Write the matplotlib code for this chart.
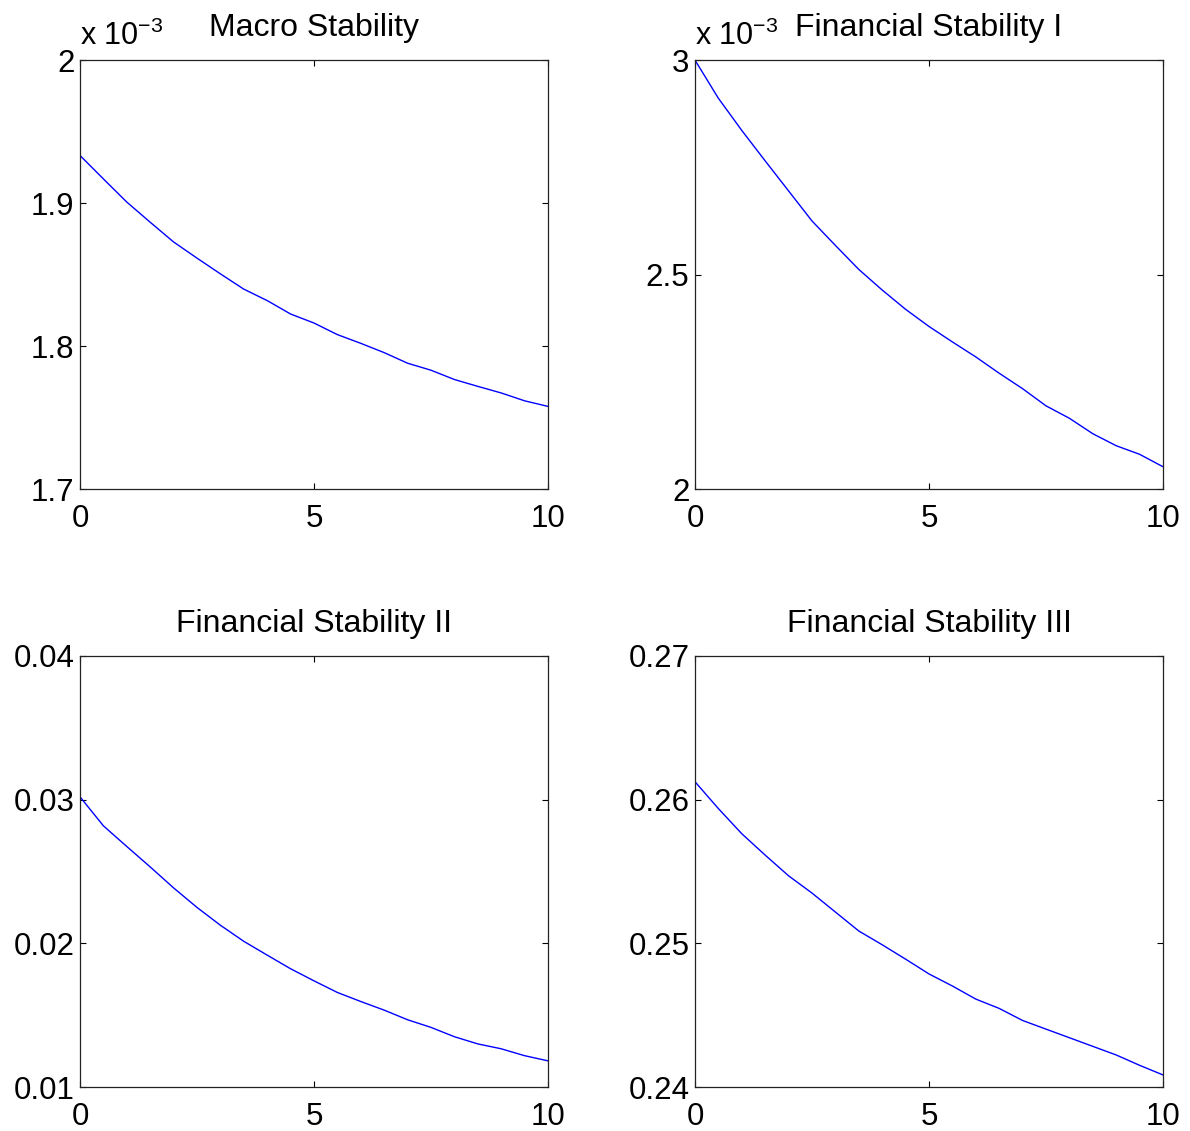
"""
Four stability panels, MATLAB-like style
"""
import matplotlib
matplotlib.use('Agg')

import matplotlib.pyplot as plt

plt.rcParams['font.family'] = ['Liberation Sans', 'DejaVu Sans']
plt.rcParams['mathtext.fontset'] = 'custom'
plt.rcParams['mathtext.rm'] = 'Liberation Sans'
plt.rcParams['mathtext.it'] = 'Liberation Sans'

# horizon (x axis)
horizon = [0, 0.5, 1, 1.5, 2, 2.5, 3, 3.5, 4, 4.5, 5, 5.5, 6, 6.5, 7, 7.5, 8, 8.5, 9, 9.5, 10]

# values in units of 1e-3
macro = [1.9333, 1.9169, 1.9007, 1.8866, 1.8728, 1.8615, 1.8505, 1.8398, 1.8318, 1.8224, 1.8161,
         1.8080, 1.8019, 1.7954, 1.7880, 1.7831, 1.7766, 1.7718, 1.7672, 1.7617, 1.7578]
fin1 = [3.000, 2.911, 2.836, 2.765, 2.695, 2.625, 2.568, 2.512, 2.464, 2.419, 2.379,
        2.343, 2.308, 2.270, 2.234, 2.194, 2.165, 2.129, 2.101, 2.081, 2.052]
fin2 = [0.0302, 0.02818, 0.02674, 0.02532, 0.02386, 0.02250, 0.02126, 0.02014, 0.01918, 0.01823, 0.01739,
        0.01658, 0.01595, 0.01535, 0.01468, 0.01415, 0.01350, 0.01300, 0.01266, 0.01218, 0.01182]
fin3 = [0.26125, 0.25938, 0.25763, 0.25614, 0.25470, 0.25350, 0.25218, 0.25086, 0.24990, 0.24890, 0.24787,
        0.24703, 0.24612, 0.24547, 0.24463, 0.24403, 0.24343, 0.24283, 0.24223, 0.24151, 0.24084]

titles = ['Macro Stability', 'Financial Stability I', 'Financial Stability II', 'Financial Stability III']
yticks = [[1.7, 1.8, 1.9, 2.0], [2.0, 2.5, 3.0], [0.01, 0.02, 0.03, 0.04], [0.24, 0.25, 0.26, 0.27]]
ylabels = [['1.7', '1.8', '1.9', '2'], ['2', '2.5', '3'],
           ['0.01', '0.02', '0.03', '0.04'], ['0.24', '0.25', '0.26', '0.27']]
scaled = [True, True, False, False]
series = [macro, fin1, fin2, fin3]

fig = plt.figure(figsize=(11.9, 11.31), dpi=100)
positions = [
    [0.0672, 0.5676, 0.3933, 0.3793],
    [0.5840, 0.5676, 0.3933, 0.3793],
    [0.0672, 0.0389, 0.3933, 0.3811],
    [0.5840, 0.0389, 0.3933, 0.3811],
]

for pos, y, title, yt, yl, sc in zip(positions, series, titles, yticks, ylabels, scaled):
    ax = fig.add_axes(pos)
    ax.plot(horizon, y, color='#0000ff', linewidth=1.0)
    ax.set_xlim(0, 10)
    ax.set_ylim(yt[0], yt[-1])
    ax.set_xticks([0, 5, 10])
    ax.set_xticklabels(['0', '5', '10'])
    ax.set_yticks(yt)
    ax.set_yticklabels(yl)
    ax.tick_params(direction='in', length=4, width=0.8, top=True, right=True,
                   labelsize=22.5, colors='black')
    ax.tick_params(axis='x', pad=11)
    ax.tick_params(axis='y', pad=4)
    for sp in ax.spines.values():
        sp.set_linewidth(0.9)
        sp.set_color('#222222')
    ax.set_title(title, fontsize=23, pad=17)
    if sc:
        ax.text(0.0, 1.035, r'x 10$^{-3}$', transform=ax.transAxes,
                ha='left', va='baseline', fontsize=22)

plt.savefig('out.png', dpi=100, facecolor='white')
plt.close()
